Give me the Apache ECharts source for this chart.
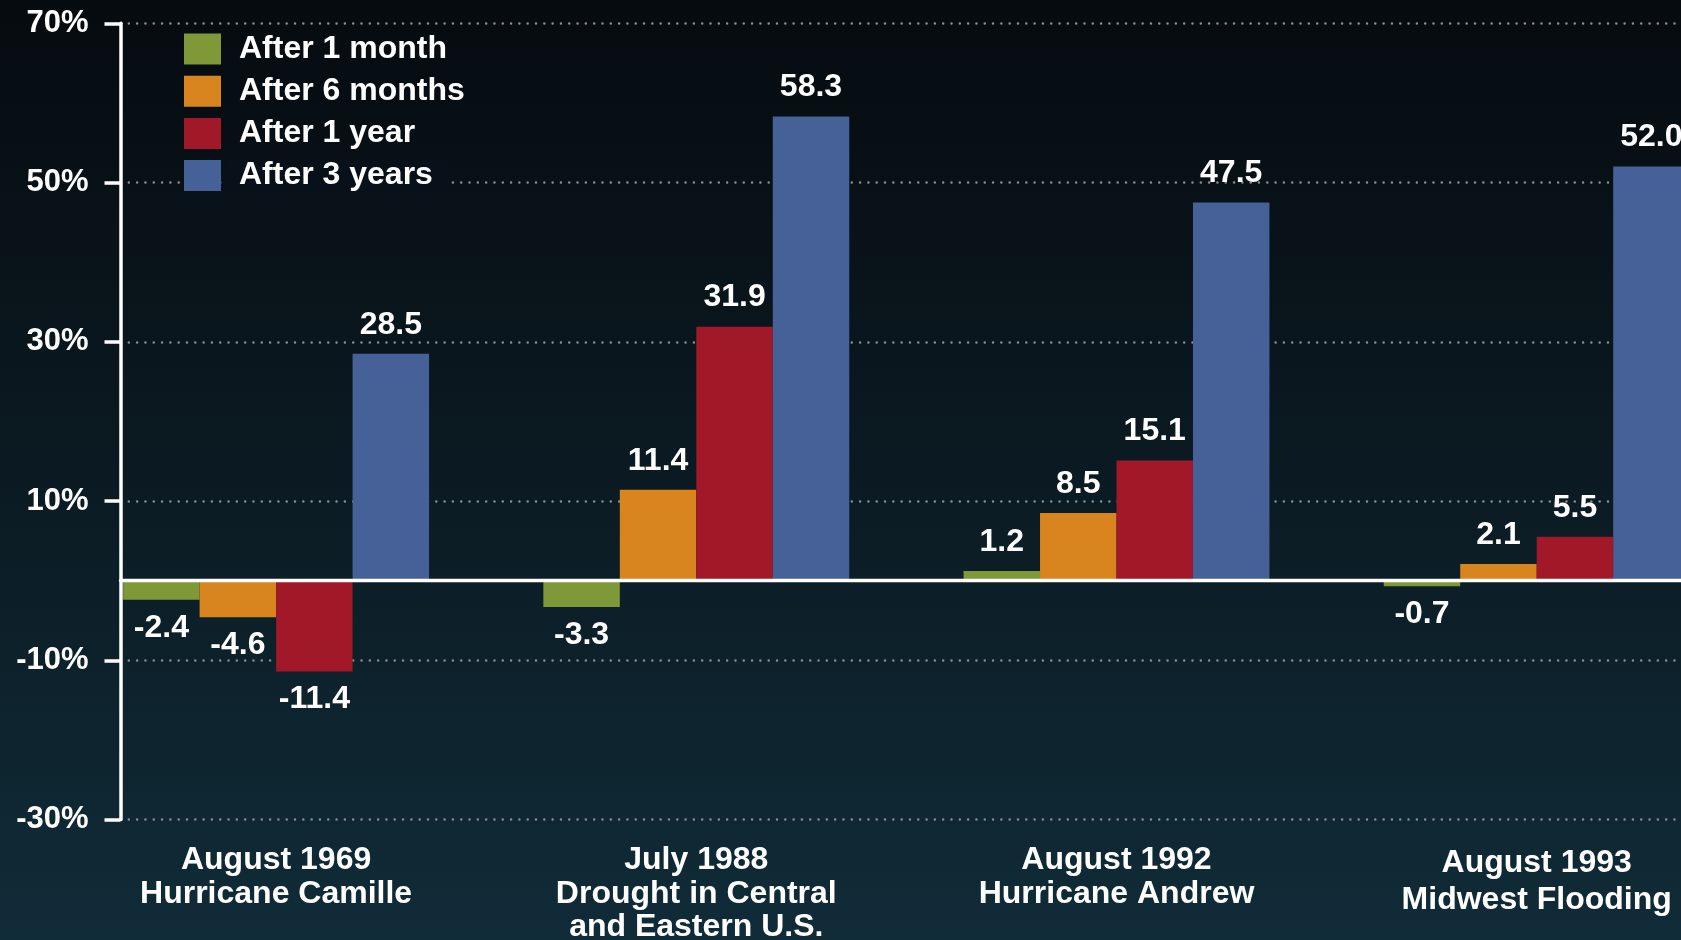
<!DOCTYPE html>
<html>
<head>
<meta charset="utf-8">
<style>
  html, body { margin: 0; padding: 0; width: 1681px; height: 940px; overflow: hidden; background: #0a1820; }
  #chart { width: 1681px; height: 940px; }
</style>
<script src="https://cdn.jsdelivr.net/npm/echarts@6/dist/echarts.min.js"></script>
</head>
<body>
<div id="chart"></div>
<script>
// ---- data ----
const categories = [
  'August 1969\nHurricane Camille',
  'July 1988\nDrought in Central\nand Eastern U.S.',
  'August 1992\nHurricane Andrew',
  'August 1993\nMidwest Flooding'
];
const seriesNames = ['After 1 month', 'After 6 months', 'After 1 year', 'After 3 years'];
const after1Month  = [-2.4, -3.3, 1.2, -0.7];
const after6Months = [-4.6, 11.4, 8.5, 2.1];
const after1Year   = [-11.4, 31.9, 15.1, 5.5];
const after3Years  = [28.5, 58.3, 47.5, 52.0];
const yMin = -30, yMax = 70, yInterval = 20;

// ---- styling ----
const colors = ['#7f9838', '#d8851f', '#a11828', '#456198'];
const FONT = '"Liberation Sans", Arial, Helvetica, sans-serif';
const TOP = 23.3, BOTTOM = 120.5;

function makeData(arr) {
  return arr.map(v => ({
    value: v,
    label: v < 0 ? { position: 'bottom', distance: 12 } : { position: 'top', distance: 13 }
  }));
}

const allSeries = [after1Month, after6Months, after1Year, after3Years].map((arr, i) => ({
  name: seriesNames[i],
  type: 'bar',
  xAxisIndex: 0,
  yAxisIndex: 0,
  barGap: '0%',
  barCategoryGap: '27.2%',
  itemStyle: { color: colors[i] },
  data: makeData(arr),
  label: {
    show: true,
    color: '#ffffff',
    fontFamily: FONT,
    fontWeight: 'bold',
    fontSize: 32,
    formatter: p => p.value.toFixed(1)
  },
  z: 2
}));

// last category label sits a bit lower with wider line spacing in the reference
const categoryData = categories.map((c, i) =>
  i === categories.length - 1
    ? { value: c, textStyle: { lineHeight: 36.7, padding: [1.6, 0, 0, 0] } }
    : c
);

// the last legend row masks the 50% grid line behind its text
const legendData = seriesNames.map((n, i) =>
  i === seriesNames.length - 1
    ? { name: n, textStyle: { backgroundColor: '#08111a' } }
    : { name: n }
);

const chart = echarts.init(document.getElementById('chart'), null, { renderer: 'canvas' });
chart.setOption({
  animation: false,
  backgroundColor: {
    type: 'linear', x: 0, y: 0, x2: 0, y2: 1,
    colorStops: [
      { offset: 0, color: '#060b0f' },
      { offset: 0.5, color: '#0b1a22' },
      { offset: 1, color: '#102c38' }
    ]
  },
  legend: {
    orient: 'vertical',
    left: 184,
    top: 33,
    padding: 0,
    itemWidth: 37,
    itemHeight: 31,
    itemGap: 10.2,
    icon: 'rect',
    data: legendData,
    textStyle: {
      color: '#ffffff',
      fontFamily: FONT,
      fontWeight: 'bold',
      fontSize: 32,
      lineHeight: 31,
      padding: [0, 15, 0, 13]
    },
    z: 10
  },
  grid: [
    { left: 66, top: TOP, bottom: BOTTOM, width: 1680.8, outerBoundsMode: 'none', containLabel: false },
    { left: 120.5, top: TOP, bottom: BOTTOM, right: 0, outerBoundsMode: 'none', containLabel: false }
  ],
  xAxis: [
    {
      type: 'category',
      gridIndex: 0,
      data: categoryData,
      axisLine: { show: false },
      axisTick: { show: false },
      splitLine: { show: false },
      axisLabel: {
        color: '#ffffff',
        fontFamily: FONT,
        fontWeight: 'bold',
        fontSize: 32,
        lineHeight: 33.5,
        margin: 24,
        interval: 0
      }
    },
    {
      type: 'value',
      gridIndex: 1,
      min: 0, max: 1,
      axisLine: { show: true, onZero: true, lineStyle: { color: '#ffffff', width: 3.3 } },
      axisTick: { show: false },
      axisLabel: { show: false },
      splitLine: { show: false },
      z: 5
    }
  ],
  yAxis: [
    {
      type: 'value',
      gridIndex: 0,
      min: yMin, max: yMax, interval: yInterval,
      show: false
    },
    {
      type: 'value',
      gridIndex: 1,
      min: yMin, max: yMax, interval: yInterval,
      axisLine: { show: true, lineStyle: { color: '#ffffff', width: 3.5 } },
      axisTick: { show: true, inside: false, length: 16, lineStyle: { color: '#ffffff', width: 3.5 } },
      axisLabel: {
        color: '#ffffff',
        fontFamily: FONT,
        fontWeight: 'bold',
        fontSize: 31,
        margin: 32,
        formatter: v => v + '%'
      },
      splitLine: {
        show: true,
        lineStyle: { color: '#8a8e92', width: 2.5, type: [0.01, 8.3], cap: 'round' }
      },
      z: 1
    }
  ],
  series: allSeries
});
</script>
</body>
</html>
